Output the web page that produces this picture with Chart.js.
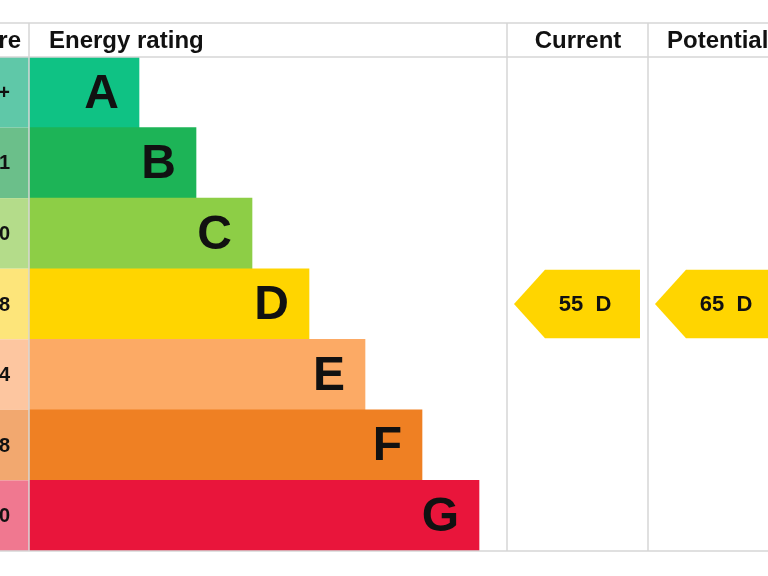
<!DOCTYPE html>
<html><head><meta charset="utf-8">
<script src="https://cdn.jsdelivr.net/npm/chart.js@4/dist/chart.umd.min.js"></script>
<style>body{margin:0;background:#fff}canvas{display:block}</style></head>
<body><canvas id="c" width="768" height="576"></canvas>
<script>
const bands = ['A','B','C','D','E','F','G'];
const scoreRanges = ['92+','81-91','69-80','55-68','39-54','21-38','1-20'];
const barLengths = [110,167,223,280,336,393,450];
const colors = ['#0fc284','#1db457','#8dce46','#ffd500','#fcaa65','#ef8023','#e9153b'];
const lightColors = ['#5fc8a8','#6bbf8a','#b4dc8a','#fde57a','#fdc6a0','#f2a86f','#f07890'];
const currentRating = 55, potentialRating = 65, ratingBand = 'D';
const headers = ['Score','Energy rating','Current','Potential'];

const grid = '#d6d6d6';
const epc = {
  id:'epc',
  afterDraw(ch){
    const c=ch.ctx, y=ch.scales.y, x=ch.scales.x;
    const x0=x.getPixelForValue(0);
    const top=57, bot=551, htop=23;
    c.save();
    // score column cells
    bands.forEach((b,i)=>{
      const yc=y.getPixelForValue(i), h=(bot-top)/7;
      c.fillStyle=lightColors[i];
      c.fillRect(0,yc-h/2,x0,h);
      c.fillStyle='#111';c.font='bold 20px "Liberation Sans"';
      c.textAlign='right';c.textBaseline='middle';
      c.fillText(scoreRanges[i],10,yc+1);
    });
    // letters
    bands.forEach((b,i)=>{
      const yc=y.getPixelForValue(i);
      c.fillStyle='#111';c.font='bold 48px "Liberation Sans"';
      c.textAlign='right';c.textBaseline='middle';
      c.fillText(b,x.getPixelForValue(barLengths[i])-20,yc+2);
    });
    // grid
    c.strokeStyle=grid;c.lineWidth=1.5;
    c.beginPath();
    [htop,top,bot].forEach(v=>{c.moveTo(0,v);c.lineTo(768,v);});
    [x0,507,648].forEach(v=>{c.moveTo(v,htop);c.lineTo(v,bot);});
    c.stroke();
    // headers
    c.fillStyle='#111';c.font='bold 24px "Liberation Sans"';c.textBaseline='middle';
    c.textAlign='right';c.fillText(headers[0],21,41);
    c.textAlign='left';c.fillText(headers[1],49,41);
    c.textAlign='center';c.fillText(headers[2],578,41);
    c.textAlign='left';c.fillText(headers[3],667,41);
    // arrows
    const ri=bands.indexOf(ratingBand), yc=y.getPixelForValue(ri), h=(bot-top)/7;
    [[514,640,currentRating],[655,780,potentialRating]].forEach(([l,r,v])=>{
      c.fillStyle=colors[ri];
      c.beginPath();c.moveTo(l,yc);c.lineTo(l+31,yc-h/2+1);c.lineTo(r,yc-h/2+1);
      c.lineTo(r,yc+h/2-1);c.lineTo(l+31,yc+h/2-1);c.closePath();c.fill();
      c.fillStyle='#111';c.font='bold 22px "Liberation Sans"';c.textAlign='center';
      c.fillText(v+'  '+ratingBand,l+71,yc+1);
    });
    c.restore();
  }
};
new Chart(document.getElementById('c'),{
  type:'bar',
  data:{labels:bands,datasets:[{data:barLengths,backgroundColor:colors,barPercentage:1,categoryPercentage:1,borderWidth:0}]},
  options:{
    indexAxis:'y',responsive:false,animation:false,
    layout:{padding:{left:29,top:57,bottom:25,right:0}},
    plugins:{legend:{display:false},tooltip:{enabled:false}},
    scales:{
      x:{min:0,max:739,display:false},
      y:{display:false}
    }
  },
  plugins:[epc]
});
</script></body></html>
